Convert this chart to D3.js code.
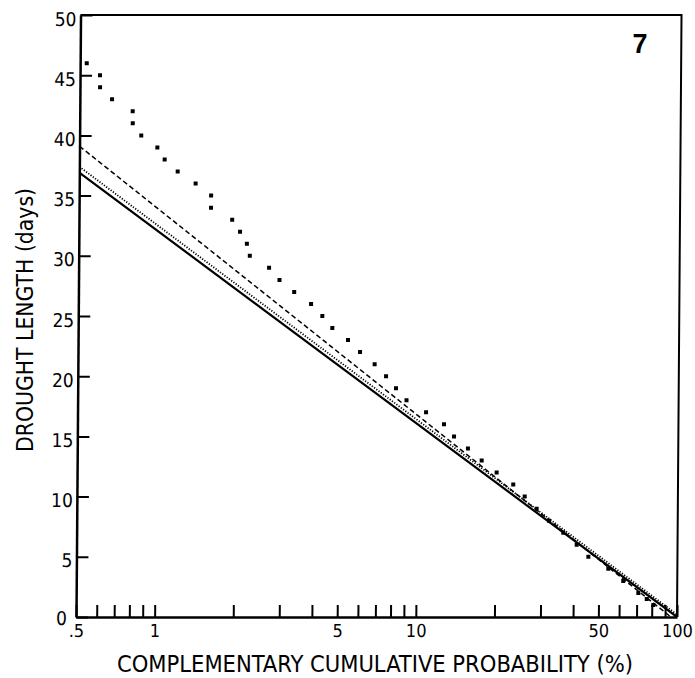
<!DOCTYPE html>
<html lang="en">
<head>
<meta charset="utf-8">
<title>Drought length vs complementary cumulative probability</title>
<script src="https://d3js.org/d3.v7.min.js"></script>
<style>
body { margin: 0; background: #fff; }
svg text { font-family: "DejaVu Sans Condensed", "DejaVu Sans", sans-serif; fill: #000; }
</style>
</head>
<body>
<script>
// observed drought lengths (days)
var obsDays = [46, 45, 44, 43, 42, 41, 40, 39, 38, 37, 36, 35, 34, 33, 32, 31, 30, 29, 28, 27,
               26, 25, 24, 23, 22, 21, 20, 19, 18, 17, 16, 15, 14, 13, 12, 11, 10, 9, 8, 7,
               6, 5, 4, 3, 2, 1.5, 1];
// complementary cumulative probability (%) of each observed length
var obsProb = [0.53, 0.596, 0.597, 0.664, 0.797, 0.798, 0.861, 0.993, 1.06, 1.19, 1.395, 1.60, 1.60, 1.93, 2.07, 2.20, 2.26, 2.68, 2.94, 3.35,
               3.89, 4.30, 4.70, 5.40, 6.01, 6.84, 7.57, 8.27, 9.08, 10.8, 12.66, 13.84, 15.66, 17.69, 20.2, 23.4, 25.9, 28.8, 32.15, 36.5,
               41.1, 45.6, 54.4, 62.1, 71.0, 76.5, 81.1];

// fitted distributions: days at 0.5 % and at 100 %
var fitStyles = ["solid", "dotted", "dashed"];
var fitStart = [36.9, 37.4, 39.1];
var fitEnd = [0.0, 0.2, -0.4];

var xTicks = [0.5, 0.6, 0.7, 0.8, 0.9, 1, 2, 3, 4, 5, 6, 7, 8, 9, 10, 20, 30, 40, 50, 60, 70, 80, 90, 100];
var xLabelled = [0.5, 1, 5, 10, 50, 100];
var xLabelText = [".5", "1", "5", "10", "50", "100"];
var yTicks = [0, 5, 10, 15, 20, 25, 30, 35, 40, 45, 50];

var w = 695, h = 678;
var plotL = 76, plotR = 677, plotT = 15, plotB = 617;

var x = d3.scaleLog().domain([0.5, 100]).range([plotL, plotR]);
var y = d3.scaleLinear().domain([0, 50]).range([plotB, plotT]);

var svg = d3.select("body").append("svg")
    .attr("width", w)
    .attr("height", h);

svg.append("defs").append("clipPath").attr("id", "plot")
    .append("rect")
    .attr("x", plotL).attr("y", plotT)
    .attr("width", plotR - plotL).attr("height", plotB - plotT);

// the scanned frame leans a little to the right at the top
var g = svg.append("g")
    .attr("transform", "translate(0," + plotB + ") skewX(-0.43) translate(0," + (-plotB) + ")");

// frame top and right
g.append("path")
    .attr("d", "M" + plotL + "," + plotT + "H" + plotR + "V" + plotB)
    .attr("fill", "none")
    .attr("stroke", "#000")
    .attr("stroke-width", 2);

// x axis
var xAxis = d3.axisBottom(x)
    .tickValues(xTicks)
    .tickSizeInner(-12)
    .tickSizeOuter(0)
    .tickPadding(7)
    .tickFormat(function(d) {
        var i = xLabelled.indexOf(d);
        return i < 0 ? "" : xLabelText[i];
    });

var gx = g.append("g")
    .attr("transform", "translate(0," + plotB + ")")
    .call(xAxis);
gx.attr("font-family", null).attr("font-size", null);
gx.select(".domain").attr("stroke-width", 2.5);
gx.selectAll(".tick line").attr("stroke-width", 2);
gx.selectAll(".tick text").style("font-size", "18px");

// y axis
var yAxis = d3.axisLeft(y)
    .tickValues(yTicks)
    .tickSizeInner(-12)
    .tickSizeOuter(0)
    .tickPadding(4);

var gy = g.append("g")
    .attr("transform", "translate(" + plotL + ",0)")
    .call(yAxis);
gy.attr("font-family", null).attr("font-size", null);
gy.select(".domain").attr("stroke-width", 2.5);
gy.selectAll(".tick line").attr("stroke-width", 2);
gy.selectAll(".tick text")
    .attr("dy", function(d) { return d === 0 ? "7px" : "10px"; })
    .attr("x", function(d) { return d === 0 ? -9 : -4; })
    .style("font-size", "19px");

// fitted lines
var plot = g.append("g").attr("clip-path", "url(#plot)");

var dashFor = { solid: null, dotted: "1.2,1.6", dashed: "5,3" };
var widthFor = { solid: 2.2, dotted: 1.8, dashed: 1.5 };

fitStyles.forEach(function(s, i) {
    plot.append("line")
        .attr("x1", x(0.5)).attr("y1", y(fitStart[i]))
        .attr("x2", x(100)).attr("y2", y(fitEnd[i]))
        .attr("stroke", "#000")
        .attr("stroke-width", widthFor[s])
        .attr("stroke-dasharray", dashFor[s]);
});

// observed points
plot.selectAll("rect.obs")
    .data(obsDays)
    .enter()
    .append("rect")
    .attr("class", "obs")
    .attr("x", function(d, i) { return x(obsProb[i]) - 2; })
    .attr("y", function(d) { return y(d) - 2; })
    .attr("width", 4)
    .attr("height", 4)
    .attr("fill", "#000");

// axis titles
svg.append("text")
    .attr("x", 375)
    .attr("y", 672)
    .attr("text-anchor", "middle")
    .attr("textLength", 516)
    .attr("lengthAdjust", "spacingAndGlyphs")
    .style("font-size", "23px")
    .text("COMPLEMENTARY CUMULATIVE PROBABILITY (%)");

svg.append("text")
    .attr("transform", "translate(33,320) rotate(-90)")
    .attr("text-anchor", "middle")
    .attr("textLength", 264)
    .attr("lengthAdjust", "spacingAndGlyphs")
    .style("font-size", "23px")
    .text("DROUGHT LENGTH (days)");

// panel number
svg.append("text")
    .attr("x", 640)
    .attr("y", 53)
    .attr("text-anchor", "middle")
    .style("font-family", "'Liberation Sans', Arial, sans-serif")
    .style("font-weight", "bold")
    .style("font-size", "27px")
    .text("7");
</script>
</body>
</html>
